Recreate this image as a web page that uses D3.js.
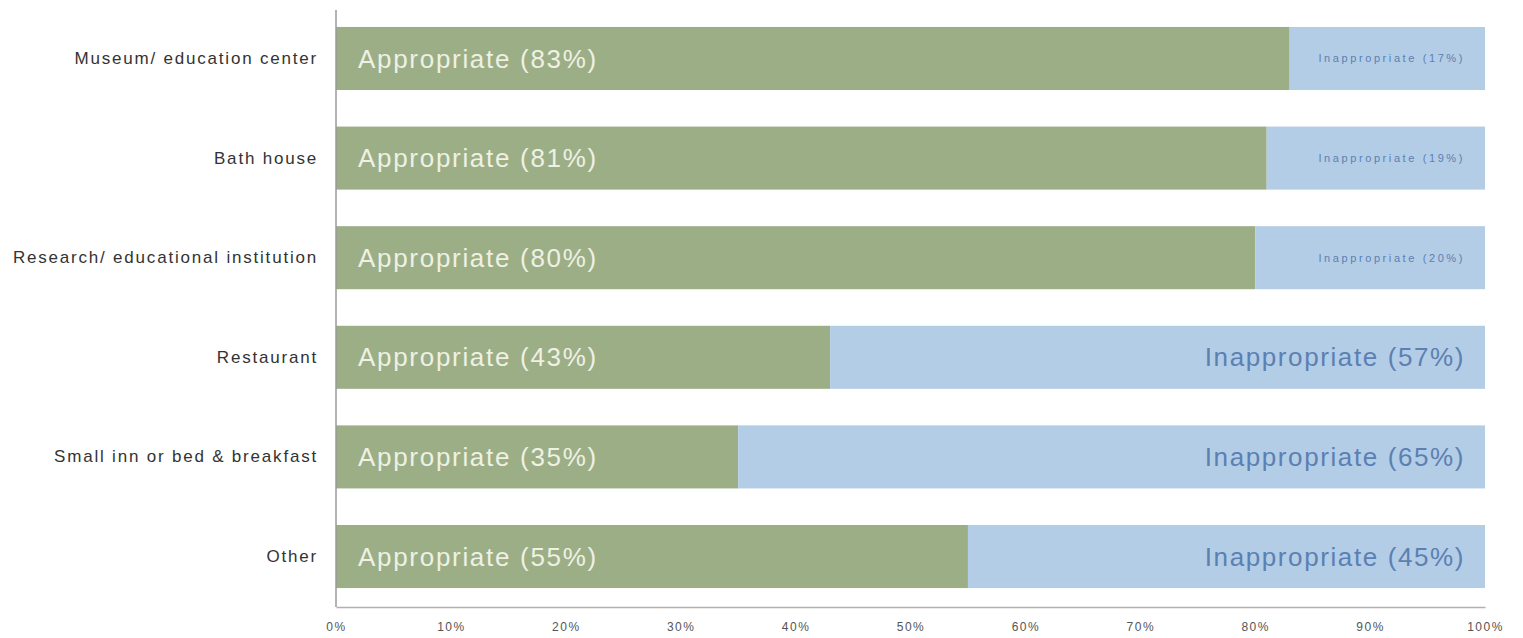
<!DOCTYPE html>
<html>
<head>
<meta charset="utf-8">
<script src="https://cdn.jsdelivr.net/npm/d3@7"></script>
<style>
  html, body { margin: 0; padding: 0; background: #ffffff; }
  svg { display: block; font-family: "Liberation Sans", Arial, sans-serif; }
</style>
</head>
<body>
<svg id="chart" width="1523" height="638"></svg>
<script>
// Survey answers: share of respondents calling each use appropriate / inappropriate
const categories = [
  "Museum/ education center",
  "Bath house",
  "Research/ educational institution",
  "Restaurant",
  "Small inn or bed & breakfast",
  "Other"
];
const appropriate = [83, 81, 80, 43, 35, 55];
const inappropriate = [17, 19, 20, 57, 65, 45];
const xTicks = [0, 10, 20, 30, 40, 50, 60, 70, 80, 90, 100];

const svg = d3.select("#chart");
const margin = { left: 336, right: 38, top: 10, bottom: 31 };
const W = 1523, H = 638;

const x = d3.scaleLinear().domain([0, 100]).range([margin.left, W - margin.right]);
const y = d3.scaleBand().domain(categories).range([17, 598]).paddingInner(0.367).paddingOuter(0.1);

const rows = categories.map((c, i) => ({ c, a: appropriate[i], n: inappropriate[i] }));

// stacked bars
const g = svg.append("g");
g.selectAll("rect.app").data(rows).join("rect")
  .attr("class", "app")
  .attr("x", x(0))
  .attr("y", d => y(d.c))
  .attr("width", d => x(d.a) - x(0))
  .attr("height", y.bandwidth())
  .attr("fill", "#9cae86");
g.selectAll("rect.inapp").data(rows).join("rect")
  .attr("class", "inapp")
  .attr("x", d => x(d.a))
  .attr("y", d => y(d.c))
  .attr("width", d => x(d.a + d.n) - x(d.a))
  .attr("height", y.bandwidth())
  .attr("fill", "#b4cde6");

// in-bar labels
g.selectAll("text.app").data(rows).join("text")
  .attr("class", "app")
  .attr("x", x(0) + 22)
  .attr("y", d => y(d.c) + y.bandwidth() / 2)
  .attr("dy", "0.35em")
  .attr("font-size", 26)
  .attr("letter-spacing", 1.7)
  .attr("fill", "#eef1e4")
  .text(d => `Appropriate (${d.a}%)`);
g.selectAll("text.inapp").data(rows).join("text")
  .attr("class", "inapp")
  .attr("x", x(100) - 20)
  .attr("y", d => y(d.c) + y.bandwidth() / 2)
  .attr("dy", "0.35em")
  .attr("text-anchor", "end")
  .attr("font-size", d => d.n < 30 ? 11 : 26)
  .attr("letter-spacing", d => d.n < 30 ? 2.6 : 1.6)
  .attr("fill", "#5b80b2")
  .text(d => `Inappropriate (${d.n}%)`);

// category axis
const yAxis = svg.append("g")
  .attr("transform", `translate(${x(0)},0)`)
  .call(d3.axisLeft(y).tickSize(0).tickPadding(18));
yAxis.select(".domain").remove();
yAxis.selectAll("text")
  .attr("font-size", 17)
  .attr("letter-spacing", 1.8)
  .attr("fill", "#333")
  .style("font-family", "Liberation Sans, Arial, sans-serif");
svg.append("line")
  .attr("x1", x(0)).attr("x2", x(0))
  .attr("y1", margin.top).attr("y2", H - margin.bottom)
  .attr("stroke", "#9a9a9a").attr("stroke-width", 1.5);

// percentage axis
const xAxis = svg.append("g")
  .attr("transform", `translate(0,${H - margin.bottom})`)
  .call(d3.axisBottom(x).tickValues(xTicks).tickFormat(d => d + "%").tickSize(0).tickPadding(15));
xAxis.select(".domain").attr("stroke", "#b5b0a8").attr("stroke-width", 1.5);
xAxis.selectAll("text")
  .attr("font-size", 12)
  .attr("letter-spacing", 1.5)
  .attr("fill", "#555")
  .style("font-family", "Liberation Sans, Arial, sans-serif");
</script>
</body>
</html>
